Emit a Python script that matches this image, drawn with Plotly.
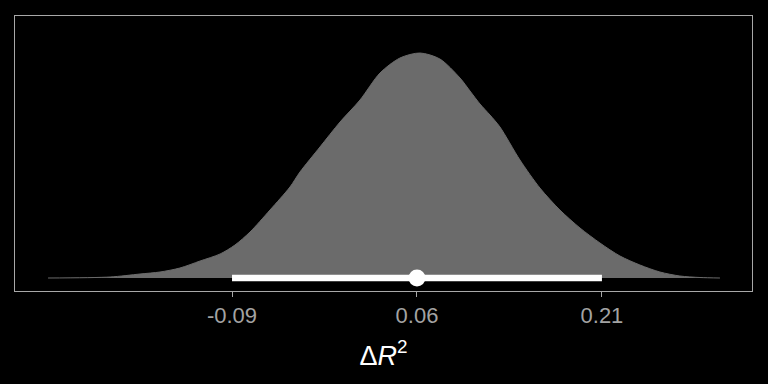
import plotly.graph_objects as go

# density curve (x values and relative heights)
dens_x = [-0.2392, -0.1889, -0.1646, -0.1484, -0.1322, -0.1159, -0.0997, -0.0876,
          -0.0754, -0.0592, -0.0430, -0.0349, -0.0187, -0.0024, 0.0138, 0.0300,
          0.0462, 0.0624, 0.0786, 0.0949, 0.1030, 0.1111, 0.1192, 0.1273,
          0.1435, 0.1597, 0.1759, 0.1922, 0.2084, 0.2246, 0.2408, 0.2570,
          0.2732, 0.2895, 0.3057]
dens_y = [0, 1, 4, 6, 10, 17, 24, 33,
          46, 68, 91, 106, 131, 156, 178, 205,
          220, 225, 219, 200, 187, 174, 163, 151,
          118, 90, 68, 50, 35, 22, 13, 6,
          2, 0.5, 0]
dens_y = [v / 225 for v in dens_y]

# interval summary
lower = -0.09
median = 0.06
upper = 0.21

tick_vals = [-0.09, 0.06, 0.21]
tick_text = ["-0.09", "0.06", "0.21"]

fig = go.Figure()
fig.add_trace(go.Scatter(x=dens_x, y=dens_y, mode="lines", fill="tozeroy",
                         line=dict(color="#6b6b6b", width=1, shape="spline", smoothing=0.8),
                         fillcolor="#6b6b6b", hoverinfo="skip"))
fig.add_trace(go.Scatter(x=[lower, upper], y=[0, 0], mode="lines",
                         line=dict(color="white", width=6.5)))
fig.add_trace(go.Scatter(x=[median], y=[0], mode="markers",
                         marker=dict(color="white", size=17, line=dict(width=0))))

fig.update_layout(
    width=768, height=384,
    margin=dict(l=15, r=16, t=16, b=93),
    paper_bgcolor="black", plot_bgcolor="black",
    showlegend=False,
    font=dict(family="Liberation Sans, Arial, sans-serif"),
)
fig.update_xaxes(
    range=[-0.266, 0.3317], tickvals=tick_vals, ticktext=tick_text,
    showgrid=False, zeroline=False,
    showline=True, mirror=True, linecolor="#a8a8a8", linewidth=1,
    ticks="outside", ticklen=5, tickcolor="#a8a8a8", tickwidth=1,
    tickfont=dict(size=22, color="#a3a3a3"),
    title=dict(text="Δ<i>R</i><sup>2</sup>", font=dict(size=27, color="white"), standoff=18),
)
fig.update_yaxes(
    range=[-13 / 225, 262 / 225], showticklabels=False, showgrid=False, zeroline=False,
    showline=True, mirror=True, linecolor="#a8a8a8", linewidth=1, ticks="",
)

fig.write_html("out.html")
